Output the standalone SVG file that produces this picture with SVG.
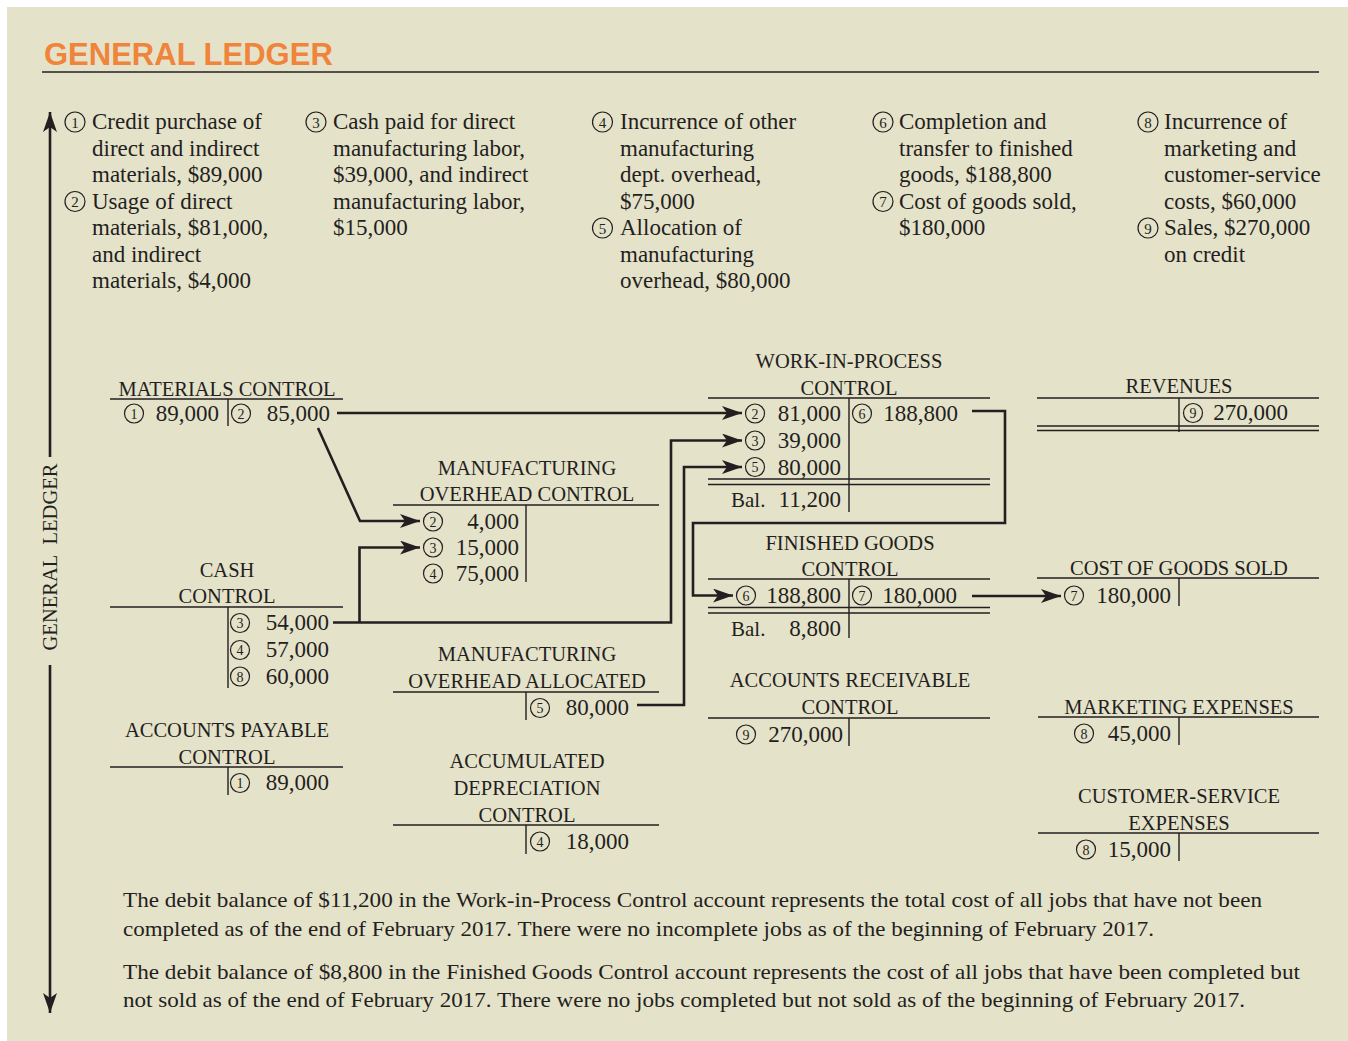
<svg xmlns="http://www.w3.org/2000/svg" width="1348" height="1041" viewBox="0 0 1348 1041">
<style>
text{font-family:"Liberation Serif","Times New Roman",serif;fill:#231f20}
.title{font-family:"Liberation Sans",Arial,sans-serif;font-weight:bold;font-size:31px;fill:#f0843a}
.d{font-size:23px}
.lb{font-size:20.5px;text-anchor:middle}
.n{font-size:23px;text-anchor:end}
.bal{font-size:21px}
.cd{font-size:14px;text-anchor:middle}
.hd{font-size:15px;text-anchor:middle}
.ft{font-size:21.5px}
.cn{fill:none;stroke:#231f20;stroke-width:1.2}
.tl{stroke:#231f20;stroke-width:1.4;fill:none}
.ar{stroke:#231f20;stroke-width:2.6;fill:none;marker-end:url(#ah)}
.ln{stroke:#231f20;stroke-width:2.6;fill:none}
</style>
<defs>
<marker id="ah" markerUnits="userSpaceOnUse" markerWidth="22" markerHeight="16" refX="20" refY="7" orient="auto" viewBox="0 0 22 16">
<path d="M0,0 L20,7 L0,14 L5,7 Z" fill="#231f20"/>
</marker>
</defs>
<rect x="7" y="7" width="1341" height="1034" fill="#e5e2ca"/>
<g id="title">
<text class="title" x="44" y="65">GENERAL LEDGER</text>
<line class="tl" x1="42" y1="72" x2="1319" y2="72" stroke-width="1.6"/>
</g>
<g id="side-axis">
<path class="ar" d="M50,457 V112"/>
<path class="ar" d="M50,665 V1013"/>
<text class="lb" transform="translate(57,557) rotate(-90)" word-spacing="6">GENERAL LEDGER</text>
</g>
<g id="desc-1">
<circle class="cn" cx="75" cy="122" r="10"/><text class="hd" x="75" y="127.5">1</text>
<text class="d" x="92" y="129">Credit purchase of</text>
<text class="d" x="92" y="155.5">direct and indirect</text>
<text class="d" x="92" y="182">materials, $89,000</text>
<circle class="cn" cx="75" cy="201.5" r="10"/><text class="hd" x="75" y="207">2</text>
<text class="d" x="92" y="208.5">Usage of direct</text>
<text class="d" x="92" y="235">materials, $81,000,</text>
<text class="d" x="92" y="261.5">and indirect</text>
<text class="d" x="92" y="288">materials, $4,000</text>
</g>
<g id="desc-3">
<circle class="cn" cx="316" cy="122" r="10"/><text class="hd" x="316" y="127.5">3</text>
<text class="d" x="333" y="129">Cash paid for direct</text>
<text class="d" x="333" y="155.5">manufacturing labor,</text>
<text class="d" x="333" y="182">$39,000, and indirect</text>
<text class="d" x="333" y="208.5">manufacturing labor,</text>
<text class="d" x="333" y="235">$15,000</text>
</g>
<g id="desc-4">
<circle class="cn" cx="602.5" cy="122" r="10"/><text class="hd" x="602.5" y="127.5">4</text>
<text class="d" x="620" y="129">Incurrence of other</text>
<text class="d" x="620" y="155.5">manufacturing</text>
<text class="d" x="620" y="182">dept. overhead,</text>
<text class="d" x="620" y="208.5">$75,000</text>
<circle class="cn" cx="602.5" cy="228" r="10"/><text class="hd" x="602.5" y="233.5">5</text>
<text class="d" x="620" y="235">Allocation of</text>
<text class="d" x="620" y="261.5">manufacturing</text>
<text class="d" x="620" y="288">overhead, $80,000</text>
</g>
<g id="desc-6">
<circle class="cn" cx="883" cy="122" r="10"/><text class="hd" x="883" y="127.5">6</text>
<text class="d" x="899" y="129">Completion and</text>
<text class="d" x="899" y="155.5">transfer to finished</text>
<text class="d" x="899" y="182">goods, $188,800</text>
<circle class="cn" cx="883" cy="201.5" r="10"/><text class="hd" x="883" y="207">7</text>
<text class="d" x="899" y="208.5">Cost of goods sold,</text>
<text class="d" x="899" y="235">$180,000</text>
</g>
<g id="desc-8">
<circle class="cn" cx="1148" cy="122" r="10"/><text class="hd" x="1148" y="127.5">8</text>
<text class="d" x="1164" y="129">Incurrence of</text>
<text class="d" x="1164" y="155.5">marketing and</text>
<text class="d" x="1164" y="182">customer-service</text>
<text class="d" x="1164" y="208.5">costs, $60,000</text>
<circle class="cn" cx="1148" cy="228" r="10"/><text class="hd" x="1148" y="233.5">9</text>
<text class="d" x="1164" y="235">Sales, $270,000</text>
<text class="d" x="1164" y="261.5">on credit</text>
</g>
<g id="materials-control">
<text class="lb" x="227" y="396">MATERIALS CONTROL</text>
<path class="tl" d="M110,399 H343 M228,399 V426"/>
<circle class="cn" cx="134" cy="413.5" r="9.5"/><text class="cd" x="134" y="418.5">1</text>
<text class="n" x="219" y="421">89,000</text>
<circle class="cn" cx="241" cy="413.5" r="9.5"/><text class="cd" x="241" y="418.5">2</text>
<text class="n" x="330" y="421">85,000</text>
</g>
<g id="mfg-overhead-control">
<text class="lb" x="527" y="475">MANUFACTURING</text>
<text class="lb" x="527" y="501">OVERHEAD CONTROL</text>
<path class="tl" d="M393,505 H659 M526,505 V582"/>
<circle class="cn" cx="433" cy="521.5" r="9.5"/><text class="cd" x="433" y="526.5">2</text>
<text class="n" x="519" y="528.5">4,000</text>
<circle class="cn" cx="433" cy="547.5" r="9.5"/><text class="cd" x="433" y="552.5">3</text>
<text class="n" x="519" y="555">15,000</text>
<circle class="cn" cx="433" cy="573.5" r="9.5"/><text class="cd" x="433" y="578.5">4</text>
<text class="n" x="519" y="581">75,000</text>
</g>
<g id="cash-control">
<text class="lb" x="227" y="577">CASH</text>
<text class="lb" x="227" y="603">CONTROL</text>
<path class="tl" d="M110,607 H343 M228,607 V688"/>
<circle class="cn" cx="240" cy="623" r="9.5"/><text class="cd" x="240" y="628">3</text>
<text class="n" x="329" y="630">54,000</text>
<circle class="cn" cx="240" cy="650" r="9.5"/><text class="cd" x="240" y="655">4</text>
<text class="n" x="329" y="657">57,000</text>
<circle class="cn" cx="240" cy="676.5" r="9.5"/><text class="cd" x="240" y="681.5">8</text>
<text class="n" x="329" y="684">60,000</text>
</g>
<g id="accounts-payable">
<text class="lb" x="227" y="737">ACCOUNTS PAYABLE</text>
<text class="lb" x="227" y="764">CONTROL</text>
<path class="tl" d="M110,767 H343 M228,767 V795"/>
<circle class="cn" cx="240" cy="783" r="9.5"/><text class="cd" x="240" y="788">1</text>
<text class="n" x="329" y="790">89,000</text>
</g>
<g id="mfg-overhead-allocated">
<text class="lb" x="527" y="661">MANUFACTURING</text>
<text class="lb" x="527" y="688">OVERHEAD ALLOCATED</text>
<path class="tl" d="M393,692 H659 M526,692 V720"/>
<circle class="cn" cx="540" cy="708" r="9.5"/><text class="cd" x="540" y="713">5</text>
<text class="n" x="629" y="715">80,000</text>
</g>
<g id="accumulated-depreciation">
<text class="lb" x="527" y="768">ACCUMULATED</text>
<text class="lb" x="527" y="795">DEPRECIATION</text>
<text class="lb" x="527" y="822">CONTROL</text>
<path class="tl" d="M393,825 H659 M526,825 V854"/>
<circle class="cn" cx="540" cy="841.5" r="9.5"/><text class="cd" x="540" y="846.5">4</text>
<text class="n" x="629" y="849">18,000</text>
</g>
<g id="work-in-process">
<text class="lb" x="849" y="368">WORK-IN-PROCESS</text>
<text class="lb" x="849" y="395">CONTROL</text>
<path class="tl" d="M708,398 H990 M849,398 V512 M708,479 H990 M708,484.5 H990"/>
<circle class="cn" cx="755" cy="413.5" r="9.5"/><text class="cd" x="755" y="418.5">2</text>
<text class="n" x="841" y="421">81,000</text>
<circle class="cn" cx="755" cy="440.5" r="9.5"/><text class="cd" x="755" y="445.5">3</text>
<text class="n" x="841" y="448">39,000</text>
<circle class="cn" cx="755" cy="467" r="9.5"/><text class="cd" x="755" y="472">5</text>
<text class="n" x="841" y="475">80,000</text>
<circle class="cn" cx="862" cy="413.5" r="9.5"/><text class="cd" x="862" y="418.5">6</text>
<text class="n" x="958" y="421">188,800</text>
<text class="bal" x="731" y="507">Bal.</text>
<text class="n" x="841" y="507">11,200</text>
</g>
<g id="finished-goods">
<text class="lb" x="850" y="550">FINISHED GOODS</text>
<text class="lb" x="850" y="576">CONTROL</text>
<path class="tl" d="M708,579 H990 M849,579 V638 M708,607.5 H990 M708,613 H990"/>
<circle class="cn" cx="746" cy="595.5" r="9.5"/><text class="cd" x="746" y="600.5">6</text>
<text class="n" x="841" y="603">188,800</text>
<circle class="cn" cx="862" cy="595.5" r="9.5"/><text class="cd" x="862" y="600.5">7</text>
<text class="n" x="957" y="603">180,000</text>
<text class="bal" x="731" y="636">Bal.</text>
<text class="n" x="841" y="636">8,800</text>
</g>
<g id="accounts-receivable">
<text class="lb" x="850" y="687">ACCOUNTS RECEIVABLE</text>
<text class="lb" x="850" y="714">CONTROL</text>
<path class="tl" d="M708,718 H990 M849,718 V746"/>
<circle class="cn" cx="746" cy="734.5" r="9.5"/><text class="cd" x="746" y="739.5">9</text>
<text class="n" x="843" y="742">270,000</text>
</g>
<g id="revenues">
<text class="lb" x="1179" y="393">REVENUES</text>
<path class="tl" d="M1037,398 H1319 M1179,398 V432 M1037,426 H1319 M1037,430.5 H1319"/>
<circle class="cn" cx="1193" cy="413" r="9.5"/><text class="cd" x="1193" y="418">9</text>
<text class="n" x="1288" y="420">270,000</text>
</g>
<g id="cost-of-goods-sold">
<text class="lb" x="1179" y="575">COST OF GOODS SOLD</text>
<path class="tl" d="M1037,578 H1319 M1179,578 V606"/>
<circle class="cn" cx="1074" cy="595.5" r="9.5"/><text class="cd" x="1074" y="600.5">7</text>
<text class="n" x="1171" y="603">180,000</text>
</g>
<g id="marketing-expenses">
<text class="lb" x="1179" y="714">MARKETING EXPENSES</text>
<path class="tl" d="M1038,717 H1319 M1179,717 V745"/>
<circle class="cn" cx="1084" cy="733.5" r="9.5"/><text class="cd" x="1084" y="738.5">8</text>
<text class="n" x="1171" y="741">45,000</text>
</g>
<g id="customer-service-expenses">
<text class="lb" x="1179" y="803">CUSTOMER-SERVICE</text>
<text class="lb" x="1179" y="830">EXPENSES</text>
<path class="tl" d="M1038,833 H1319 M1179,833 V861"/>
<circle class="cn" cx="1086" cy="849.5" r="9.5"/><text class="cd" x="1086" y="854.5">8</text>
<text class="n" x="1171" y="857">15,000</text>
</g>
<g id="connectors">
<path class="ar" d="M337,413 H742"/>
<path class="ar" d="M318,428 L360,521 H420"/>
<path class="ar" d="M333,622.5 H671 V440.5 H742"/>
<path class="ar" d="M359.5,622.5 V547.5 H420"/>
<path class="ar" d="M637,705 H684 V467 H742"/>
<path class="ar" d="M972,411 H1005 V523 H693 V595.5 H733"/>
<path class="ar" d="M972,596 H1061"/>
</g>
<g id="notes">
<text class="ft" x="123" y="907" textLength="1139" lengthAdjust="spacingAndGlyphs">The debit balance of $11,200 in the Work-in-Process Control account represents the total cost of all jobs that have not been</text>
<text class="ft" x="123" y="935.5" textLength="1031" lengthAdjust="spacingAndGlyphs">completed as of the end of February 2017. There were no incomplete jobs as of the beginning of February 2017.</text>
<text class="ft" x="123" y="978.5" textLength="1177" lengthAdjust="spacingAndGlyphs">The debit balance of $8,800 in the Finished Goods Control account represents the cost of all jobs that have been completed but</text>
<text class="ft" x="123" y="1007" textLength="1122" lengthAdjust="spacingAndGlyphs">not sold as of the end of February 2017. There were no jobs completed but not sold as of the beginning of February 2017.</text>
</g>
</svg>
